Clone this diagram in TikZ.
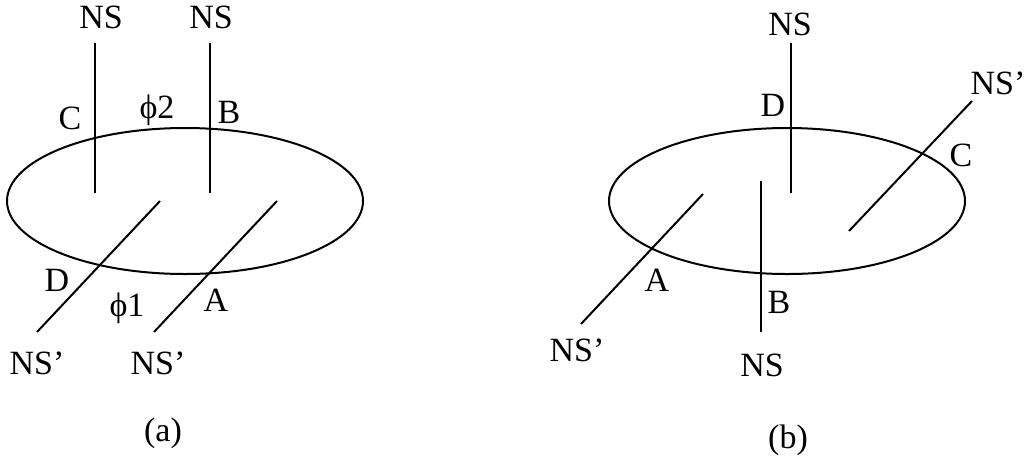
\documentclass[tikz,border=0pt]{standalone}
\usepackage{fontspec}
\setmainfont{Liberation Serif}
\begin{document}
\begin{tikzpicture}[x=1pt,y=-1pt,
  wire/.style={line width=2pt},
  ring/.style={line width=2pt},
  lbl/.style={font=\fontsize{34}{34}\selectfont, inner sep=0pt}]
\useasboundingbox (0,0) rectangle (1027,459);
% (a)
\draw[ring] (185,201) ellipse (178 and 73);
\coordinate (c1) at (95,43); \coordinate (c2) at (95,193);
\coordinate (b1) at (210,43); \coordinate (b2) at (210,193);
\coordinate (d1) at (160,201); \coordinate (d2) at (37,332);
\coordinate (a1) at (277,201); \coordinate (a2) at (154,332);
\draw[wire] (c1) -- (c2);
\draw[wire] (b1) -- (b2);
\draw[wire] (d1) -- (d2);
\draw[wire] (a1) -- (a2);
\node[lbl] (nsa1) at (101,17) {NS};
\node[lbl] (nsa2) at (211,17) {NS};
\node[lbl] (lc) at (70,118) {C};
\node[lbl] (phi2) at (157,110) {ϕ2};
\node[lbl] (lb) at (229,112) {B};
\node[lbl] (ld) at (57,280) {D};
\node[lbl] (phi1) at (127,308) {ϕ1};
\node[lbl] (la) at (216,300) {A};
\node[lbl] (nspa1) at (37,363) {NS’};
\node[lbl] (nspa2) at (158,363) {NS’};
\node[lbl] (capa) at (163,433) {(a)};
% (b)
\draw[ring] (787,201) ellipse (178 and 73);
\coordinate (bd1) at (791,43); \coordinate (bd2) at (791,193);
\coordinate (bb1) at (761,181); \coordinate (bb2) at (761,332);
\coordinate (ba1) at (703,194); \coordinate (ba2) at (581,324);
\coordinate (bc1) at (972,101); \coordinate (bc2) at (849,231);
\draw[wire] (bd1) -- (bd2);
\draw[wire] (bb1) -- (bb2);
\draw[wire] (ba1) -- (ba2);
\draw[wire] (bc1) -- (bc2);
\node[lbl] (nsb1) at (790,24) {NS};
\node[lbl] (lbd) at (773,105) {D};
\node[lbl] (nspb1) at (998,83) {NS’};
\node[lbl] (lbc) at (961,155) {C};
\node[lbl] (lba) at (657,280) {A};
\node[lbl] (lbb) at (779,302) {B};
\node[lbl] (nspb2) at (577,350) {NS’};
\node[lbl] (nsb2) at (762,365) {NS};
\node[lbl] (capb) at (788,440) {(b)};
\end{tikzpicture}
\end{document}
